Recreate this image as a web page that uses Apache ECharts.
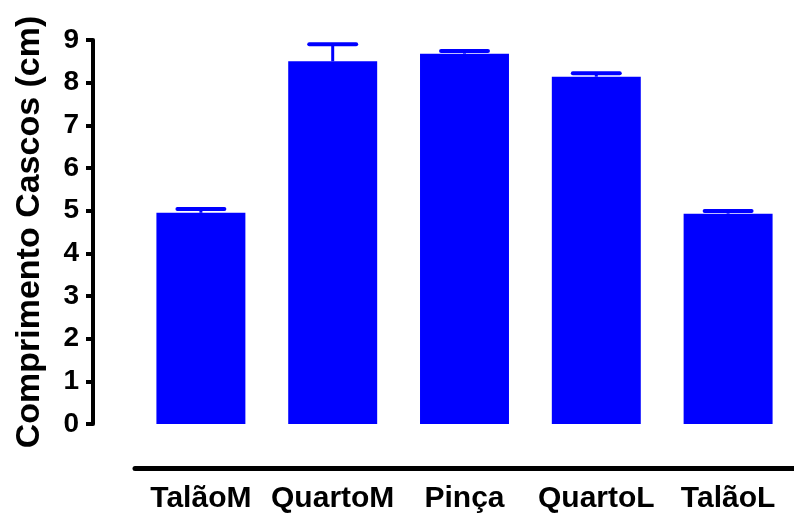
<!DOCTYPE html>
<html>
<head>
<meta charset="utf-8">
<script src="https://cdn.jsdelivr.net/npm/echarts@6/dist/echarts.min.js"></script>
<style>html,body{margin:0;padding:0;background:#fff;}#c{width:794px;height:519px;}</style>
</head>
<body>
<div id="c"></div>
<script>
var categories = ['TalãoM', 'QuartoM', 'Pinça', 'QuartoL', 'TalãoL'];
var means = [4.95, 8.50, 8.68, 8.14, 4.93];
var upperErr = [0.09, 0.40, 0.06, 0.08, 0.06];
var yTicks = [0, 1, 2, 3, 4, 5, 6, 7, 8, 9];
var yTitle = 'Comprimento Cascos (cm)';

var FONT = '"Liberation Sans", Arial, Helvetica, sans-serif';
var chart = echarts.init(document.getElementById('c'), null, {renderer: 'canvas'});
var errData = means.map(function (m, i) { return [i, m, m + upperErr[i]]; });

chart.setOption({
  animation: false,
  backgroundColor: '#ffffff',
  grid: {left: 135, width: 662, top: 40, height: 384},
  xAxis: {
    type: 'category',
    data: categories,
    offset: 44,
    axisLine: {show: true, onZero: false, lineStyle: {color: '#000', width: 5, cap: 'round'}},
    axisTick: {show: false},
    axisLabel: {interval: 0, color: '#000', fontFamily: FONT, fontWeight: 'bold', fontSize: 30, margin: 16}
  },
  yAxis: {
    type: 'value',
    min: yTicks[0],
    max: yTicks[yTicks.length - 1],
    interval: 1,
    offset: 42,
    splitLine: {show: false},
    axisLine: {show: true, lineStyle: {color: '#000', width: 4}},
    axisTick: {show: true, length: 7, lineStyle: {color: '#000', width: 4}},
    axisLabel: {color: '#000', fontFamily: FONT, fontWeight: 'bold', fontSize: 28, margin: 14},
    name: yTitle,
    nameLocation: 'middle',
    nameGap: 46,
    nameRotate: 90,
    nameTextStyle: {color: '#000', fontFamily: FONT, fontWeight: 'bold', fontSize: 34}
  },
  series: [
    {
      type: 'bar',
      data: means,
      barWidth: '67.5%',
      itemStyle: {color: '#0000ff'}
    },
    {
      type: 'custom',
      data: errData,
      z: 3,
      renderItem: function (params, api) {
        var x = api.value(0);
        var base = api.coord([x, api.value(1)]);
        var top = api.coord([x, api.value(2)]);
        var half = api.size([1, 0])[0] * 0.178;
        return {
          type: 'group',
          children: [
            {type: 'line', shape: {x1: top[0], y1: base[1], x2: top[0], y2: top[1]}, style: {stroke: '#0000ff', lineWidth: 3}},
            {type: 'line', shape: {x1: top[0] - half, y1: top[1], x2: top[0] + half, y2: top[1]}, style: {stroke: '#0000ff', lineWidth: 4, lineCap: 'round'}}
          ]
        };
      }
    }
  ]
});
</script>
</body>
</html>
